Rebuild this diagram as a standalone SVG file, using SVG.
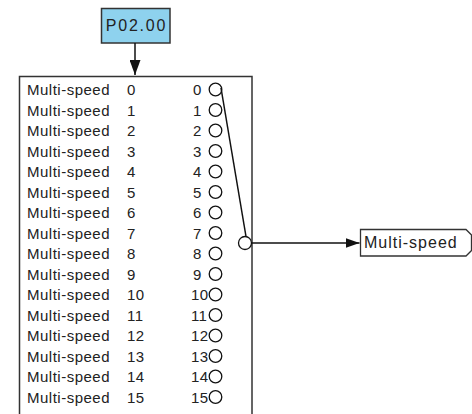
<svg xmlns="http://www.w3.org/2000/svg" width="472" height="414" viewBox="0 0 472 414">
<style>
.lbl{font-family:"Liberation Sans",Arial,sans-serif;font-size:15px;letter-spacing:0.5px;fill:#222}
.num{font-family:"Liberation Sans",Arial,sans-serif;font-size:15px;letter-spacing:0.3px;fill:#222}
.ln{stroke:#111;stroke-width:1.5;fill:none}
.c{stroke:#111;stroke-width:1.3;fill:#fff}
</style>
<defs>
<marker id="ah" markerWidth="14" markerHeight="10" refX="14" refY="5" orient="auto" markerUnits="userSpaceOnUse">
<path d="M0,0 L14,5 L0,10 Z" fill="#111"/>
</marker>
<marker id="ahv" markerWidth="15" markerHeight="11" refX="15" refY="5.5" orient="auto" markerUnits="userSpaceOnUse">
<path d="M0,0 L15,5.5 L0,11 Z" fill="#111"/>
</marker>
</defs>
<g id="p0200">
<rect x="101.5" y="8.5" width="68.5" height="34.5" fill="#8ED2EE" stroke="#333" stroke-width="1.5"/>
<text x="136.5" y="31" text-anchor="middle" font-family="Liberation Sans,Arial,sans-serif" font-size="16" letter-spacing="1.8" fill="#222">P02.00</text>
</g>
<g id="selector">
<rect x="19.5" y="76.5" width="232.5" height="400" fill="none" stroke="#333" stroke-width="1.5"/>
<text class="lbl" x="27" y="95">Multi-speed <tspan x="127">0</tspan></text>
<text class="lbl" x="27" y="115.5">Multi-speed <tspan x="127">1</tspan></text>
<text class="lbl" x="27" y="136">Multi-speed <tspan x="127">2</tspan></text>
<text class="lbl" x="27" y="156.5">Multi-speed <tspan x="127">3</tspan></text>
<text class="lbl" x="27" y="177">Multi-speed <tspan x="127">4</tspan></text>
<text class="lbl" x="27" y="197.5">Multi-speed <tspan x="127">5</tspan></text>
<text class="lbl" x="27" y="218">Multi-speed <tspan x="127">6</tspan></text>
<text class="lbl" x="27" y="238.5">Multi-speed <tspan x="127">7</tspan></text>
<text class="lbl" x="27" y="259">Multi-speed <tspan x="127">8</tspan></text>
<text class="lbl" x="27" y="279.5">Multi-speed <tspan x="127">9</tspan></text>
<text class="lbl" x="27" y="300">Multi-speed <tspan x="127">10</tspan></text>
<text class="lbl" x="27" y="320.5">Multi-speed <tspan x="127">11</tspan></text>
<text class="lbl" x="27" y="341">Multi-speed <tspan x="127">12</tspan></text>
<text class="lbl" x="27" y="361.5">Multi-speed <tspan x="127">13</tspan></text>
<text class="lbl" x="27" y="382">Multi-speed <tspan x="127">14</tspan></text>
<text class="lbl" x="27" y="402.5">Multi-speed <tspan x="127">15</tspan></text>
<text class="num" x="193" y="95">0</text>
<text class="num" x="193" y="115.5">1</text>
<text class="num" x="193" y="136">2</text>
<text class="num" x="193" y="156.5">3</text>
<text class="num" x="193" y="177">4</text>
<text class="num" x="193" y="197.5">5</text>
<text class="num" x="193" y="218">6</text>
<text class="num" x="193" y="238.5">7</text>
<text class="num" x="193" y="259">8</text>
<text class="num" x="193" y="279.5">9</text>
<text class="num" x="191" y="300">10</text>
<text class="num" x="191" y="320.5">11</text>
<text class="num" x="191" y="341">12</text>
<text class="num" x="191" y="361.5">13</text>
<text class="num" x="191" y="382">14</text>
<text class="num" x="191" y="402.5">15</text>
<circle class="c" cx="215.5" cy="89.5" r="6.3"/>
<circle class="c" cx="215.5" cy="110" r="6.3"/>
<circle class="c" cx="215.5" cy="130.5" r="6.3"/>
<circle class="c" cx="215.5" cy="151" r="6.3"/>
<circle class="c" cx="215.5" cy="171.5" r="6.3"/>
<circle class="c" cx="215.5" cy="192" r="6.3"/>
<circle class="c" cx="215.5" cy="212.5" r="6.3"/>
<circle class="c" cx="215.5" cy="233" r="6.3"/>
<circle class="c" cx="215.5" cy="253.5" r="6.3"/>
<circle class="c" cx="215.5" cy="274" r="6.3"/>
<circle class="c" cx="215.5" cy="294.5" r="6.3"/>
<circle class="c" cx="215.5" cy="315" r="6.3"/>
<circle class="c" cx="215.5" cy="335.5" r="6.3"/>
<circle class="c" cx="215.5" cy="356" r="6.3"/>
<circle class="c" cx="215.5" cy="376.5" r="6.3"/>
<circle class="c" cx="215.5" cy="397" r="6.3"/>
<line class="ln" x1="221" y1="88" x2="246" y2="236.5" stroke-width="1.3"/>
<circle class="c" cx="245" cy="243" r="6.5"/>
</g>
<g id="out">
<path d="M360.5,229.5 H466 L471.5,235 V250.5 L466,256 H360.5 Z" fill="#fff" stroke="#333" stroke-width="1.3"/>
<text x="364" y="248" font-family="Liberation Sans,Arial,sans-serif" font-size="16" letter-spacing="1" fill="#222">Multi-speed</text>
</g>
<g id="connectors">
<line class="ln" x1="135" y1="43" x2="135" y2="75" marker-end="url(#ahv)"/>
<line class="ln" x1="251.5" y1="243" x2="359.5" y2="243" marker-end="url(#ah)"/>
</g>
</svg>
